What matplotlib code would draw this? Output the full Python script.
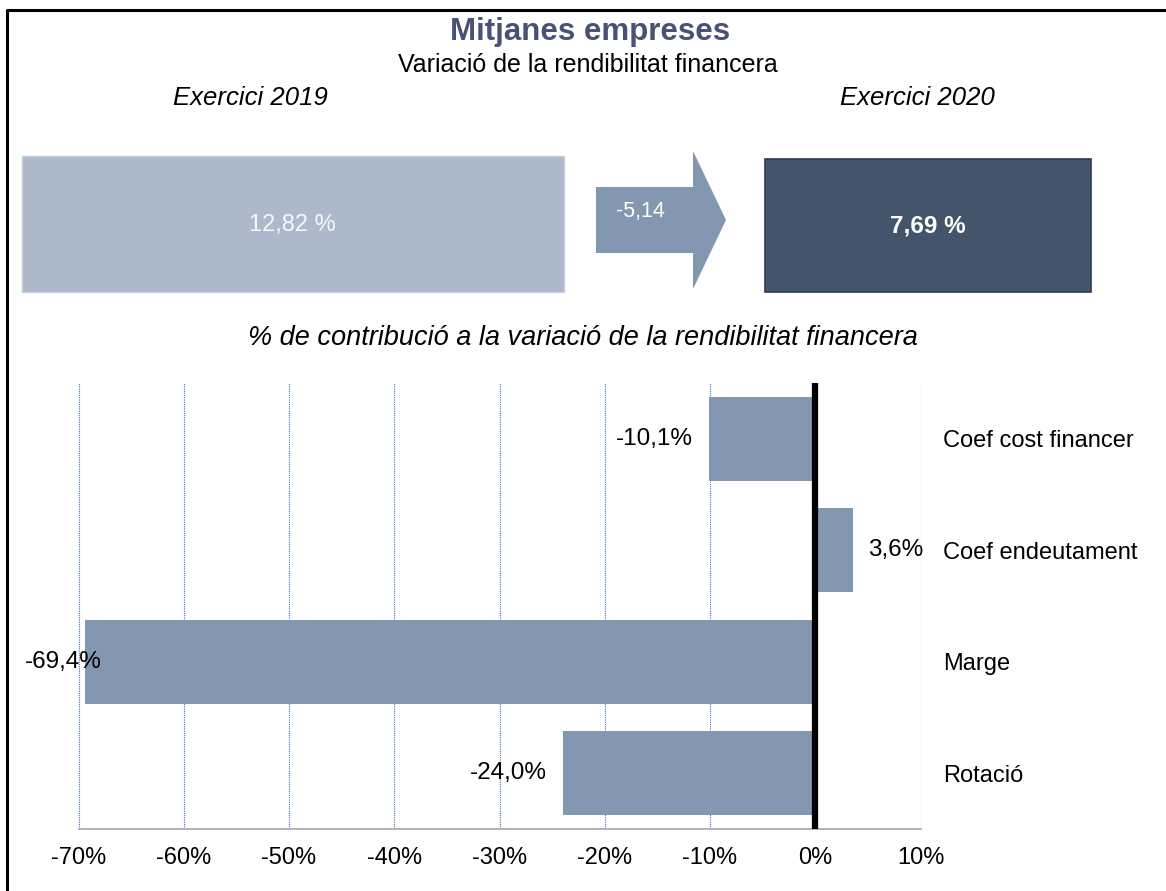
import matplotlib
matplotlib.use("Agg")
import matplotlib.pyplot as plt
from matplotlib.patches import Rectangle, Polygon

plt.rcParams['font.family'] = ['Liberation Sans', 'DejaVu Sans']

# ---------------- data ----------------
title = "Mitjanes empreses"
subtitle = "Variació de la rendibilitat financera"
year_labels = ["Exercici 2019", "Exercici 2020"]
rf_values = [12.82, 7.69]          # rendibilitat financera (%)
rf_change = -5.14
section_title = "% de contribució a la variació de la rendibilitat financera"
categories = ["Coef cost financer", "Coef endeutament", "Marge", "Rotació"]
contrib = [-10.1, 3.6, -69.4, -24.0]
xticks = [-70, -60, -50, -40, -30, -20, -10, 0, 10]

def fmt(v, dec=1):
    return f"{v:.{dec}f}".replace(".", ",")

W, H = 1166, 891
fig = plt.figure(figsize=(W / 100, H / 100), dpi=100)

# ---------------- overlay (pixel coordinates) ----------------
ov = fig.add_axes([0, 0, 1, 1])
ov.set_xlim(0, W)
ov.set_ylim(H, 0)
ov.axis('off')

# frame (top + left visible)
ov.plot([7, 7, W + 5], [H + 5, 10, 10], color='black', lw=2.2, solid_capstyle='butt')

ov.text(590, 32, title, ha='center', va='center', fontsize=22.5, fontweight='bold', color='#4B5174')
ov.text(588, 65, subtitle, ha='center', va='center', fontsize=18, color='black')
ov.text(250, 98, year_labels[0], ha='center', va='center', fontsize=18.5, style='italic')
ov.text(917, 98, year_labels[1], ha='center', va='center', fontsize=18.5, style='italic')

scale = 42.3            # px per percentage point for the KPI boxes
box_bottom = 292
box_h = 136
# 2019 box
w0 = rf_values[0] * scale
x0 = 22
ov.add_patch(Rectangle((x0, box_bottom - box_h), w0, box_h, facecolor='#ADB9CA',
                       edgecolor='#C5CEDA', lw=1))
ov.text(x0 + w0 / 2 - 1, box_bottom - box_h / 2 + 1, fmt(rf_values[0], 2) + " %", ha='center', va='center',
        fontsize=17, color='#F4F6F9')
# 2020 box
w1 = rf_values[1] * scale
cx1 = 928
ov.add_patch(Rectangle((cx1 - w1 / 2, box_bottom - box_h + 3), w1, box_h - 3, facecolor='#44546A',
                       edgecolor='#2F3B4C', lw=1.2))
ov.text(cx1, box_bottom - box_h / 2 + 2, fmt(rf_values[1], 2) + " %", ha='center', va='center',
        fontsize=17.5, fontweight='bold', color='white')

# arrow
ax_l, ax_m, ax_r = 596, 693, 726
body_t, body_b = 187, 253
head_t, head_b = 151, 289
tip_y = (head_t + head_b) / 2
ov.add_patch(Polygon([(ax_l, body_t), (ax_m, body_t), (ax_m, head_t), (ax_r, tip_y),
                      (ax_m, head_b), (ax_m, body_b), (ax_l, body_b)],
                     closed=True, facecolor='#8497B0', edgecolor='none'))
ov.text(640, 211, fmt(rf_change, 2), ha='center', va='center', fontsize=15.5, color='white')

ov.text(583, 338, section_title, ha='center', va='center', fontsize=19.5, style='italic')

# ---------------- bar chart ----------------
left_px, right_px = 78.5, 920.5
top_px, bot_px = 383, 829
ax = fig.add_axes([left_px / W, (H - bot_px) / H, (right_px - left_px) / W, (bot_px - top_px) / H])
ax.patch.set_alpha(0)

ypos = list(range(len(categories)))
ax.barh(ypos, contrib, height=0.75, color='#8497B0', zorder=2)
ax.set_xlim(xticks[0], xticks[-1])
ax.set_ylim(len(categories) - 0.5, -0.5)

ax.set_xticks(xticks)
ax.set_xticklabels([f"{t}%" for t in xticks], fontsize=17)
ax.tick_params(axis='x', length=0, pad=13)
for t in xticks:
    ax.axvline(t, color='#4472C4', lw=0.8, ls=(0, (1, 1)), zorder=1)
ax.axvline(0, color='black', lw=4.5, zorder=3)

ax.yaxis.tick_right()
ax.set_yticks(ypos)
ax.set_yticklabels(categories, fontsize=17, ha='left')
ax.tick_params(axis='y', length=0, pad=16)

for s in ['top', 'left', 'right']:
    ax.spines[s].set_visible(False)
ax.spines['bottom'].set_color('#A6A6A6')
ax.spines['bottom'].set_linewidth(1.2)

labels = []
for y, v in zip(ypos, contrib):
    if v < 0:
        t = ax.annotate(fmt(v) + "%", (v, y), xytext=(-16, 0), textcoords='offset pixels',
                        ha='right', va='center', fontsize=17.5)
    else:
        t = ax.annotate(fmt(v) + "%", (v, y), xytext=(15, 0), textcoords='offset pixels',
                        ha='left', va='center', fontsize=17.5)
    labels.append(t)

# keep labels inside the chart area (as the spreadsheet does)
fig.canvas.draw()
r = fig.canvas.get_renderer()
min_left = 25
for t in labels:
    bb = t.get_window_extent(r)
    if bb.x0 < min_left:
        dx, dy = t.xyann
        t.xyann = (dx + (min_left - bb.x0), dy)

fig.savefig("out.png", dpi=100)
